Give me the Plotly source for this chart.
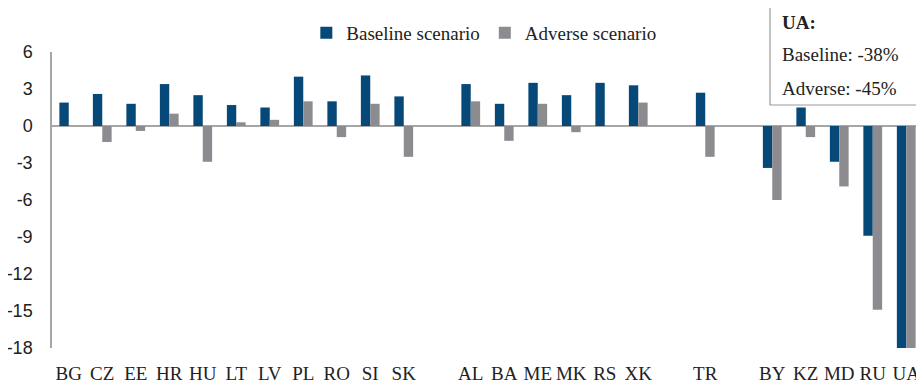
import plotly.graph_objects as go

categories = ["BG", "CZ", "EE", "HR", "HU", "LT", "LV", "PL", "RO", "SI", "SK", " ",
              "AL", "BA", "ME", "MK", "RS", "XK", "  ", "TR", "   ",
              "BY", "KZ", "MD", "RU", "UA"]
baseline = [1.9, 2.6, 1.8, 3.4, 2.5, 1.7, 1.5, 4.0, 2.0, 4.1, 2.4, None,
            3.4, 1.8, 3.5, 2.5, 3.5, 3.3, None, 2.7, None,
            -3.4, 1.5, -2.9, -8.9, -38]
adverse = [0.0, -1.3, -0.4, 1.0, -2.9, 0.3, 0.5, 2.0, -0.9, 1.8, -2.5, None,
           2.0, -1.2, 1.8, -0.5, 0.0, 1.9, None, -2.5, None,
           -6.0, -0.9, -4.9, -14.9, -45]
y_ticks = [6, 3, 0, -3, -6, -9, -12, -15, -18]
box_lines = ["<b>UA:</b>", "Baseline: -38%", "Adverse: -45%"]

BLUE = "#064877"
GREY = "#8c8c90"
AXIS = "#a6a6a6"
SERIF = "Liberation Serif, Times New Roman, serif"

fig = go.Figure()
fig.add_trace(go.Bar(x=categories, y=baseline, name="Baseline scenario",
                     marker=dict(color=BLUE, line=dict(width=0))))
fig.add_trace(go.Bar(x=categories, y=adverse, name="Adverse scenario",
                     marker=dict(color=GREY, line=dict(width=0))))

# the page body adds an 8px offset, so the figure is sized/margined to compensate
fig.update_layout(
    width=916, height=382,
    margin=dict(l=44, r=1, t=44, b=42, autoexpand=False),
    paper_bgcolor="white", plot_bgcolor="white",
    barmode="group", bargap=0.44, bargroupgap=0,
    showlegend=True,
    legend=dict(orientation="h", x=0.292, xanchor="left",
                yref="container", y=1 - 25 / 382, yanchor="middle",
                font=dict(family=SERIF, size=19, color="#222"),
                bgcolor="rgba(0,0,0,0)", itemwidth=30, traceorder="normal"),
    xaxis=dict(type="category", categoryorder="array", categoryarray=categories,
               showgrid=False, showline=False, zeroline=False, ticks="",
               tickangle=0, automargin=False,
               tickfont=dict(family=SERIF, size=19, color="#222"),
               ticklabelstandoff=12, fixedrange=True),
    yaxis=dict(range=[-18, 6], tickvals=y_ticks, ticktext=[str(v) for v in y_ticks],
               showgrid=False, showline=True, linecolor=AXIS, linewidth=1.5,
               zeroline=True, zerolinecolor=AXIS, zerolinewidth=1.5, ticks="",
               automargin=False,
               tickfont=dict(family="Liberation Sans Narrow, Arial Narrow, Liberation Sans, sans-serif",
                             size=18, color="#222"),
               ticklabelstandoff=14, fixedrange=True),
)

fig.add_shape(type="rect", xref="paper", yref="paper",
              x0=(770 - 52) / 871, x1=(919 - 52) / 871,
              y0=(348 - 105) / 296, y1=(348 - 5) / 296,
              line=dict(color="#999999", width=1.2), fillcolor="white", layer="above")
for i, t in enumerate(box_lines):
    fig.add_annotation(xref="paper", yref="paper",
                       x=(780 - 52) / 871, xanchor="left",
                       y=(348 - (22 + 33 * i)) / 296, yanchor="middle",
                       text=t, showarrow=False,
                       font=dict(family=SERIF, size=19, color="#222"))

fig.write_html("out.html")
